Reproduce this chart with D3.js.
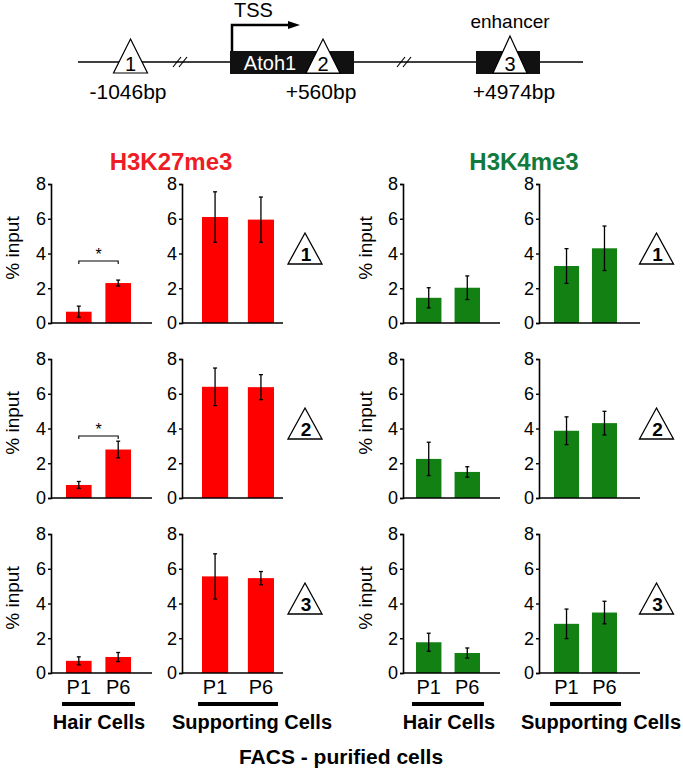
<!DOCTYPE html>
<html>
<head>
<meta charset="utf-8">
<script src="https://cdn.jsdelivr.net/npm/d3@7"></script>
<style>
  body { margin: 0; background: #fff; }
  text { font-family: "Liberation Sans", Arial, Helvetica, sans-serif; }
</style>
</head>
<body>
<div id="root"></div>
<script>
// Data
const marks = ['H3K27me3', 'H3K4me3'];
const cellTypes = ['Hair Cells', 'Supporting Cells'];
const stages = ['P1', 'P6'];
const sites = ['1', '2', '3'];
const yTicks = [0, 2, 4, 6, 8];

// [site][stage]
const k27HairMean = [[0.65, 2.3], [0.75, 2.79], [0.7, 0.92]];
const k27HairErr = [[0.32, 0.17], [0.2, 0.48], [0.23, 0.26]];
const k27SupMean = [[6.1, 5.95], [6.4, 6.38], [5.56, 5.46]];
const k27SupErr = [[1.45, 1.3], [1.08, 0.72], [1.3, 0.38]];
const k4HairMean = [[1.45, 2.03], [2.25, 1.5], [1.77, 1.15]];
const k4HairErr = [[0.58, 0.68], [0.96, 0.3], [0.52, 0.29]];
const k4SupMean = [[3.28, 4.3], [3.87, 4.31], [2.83, 3.48]];
const k4SupErr = [[1.0, 1.28], [0.8, 0.68], [0.85, 0.65]];
const k27HairSig = [true, true, false];

const meanTable = [[k27HairMean, k27SupMean], [k4HairMean, k4SupMean]];
const errTable = [[k27HairErr, k27SupErr], [k4HairErr, k4SupErr]];

// Layout
const width = 683;
const height = 771;
const rowZero = 323;
const rowStep = 175;
const rowH = 139;
const markColors = ['#ff0000', '#138013'];
const titleColors = ['#ee1c24', '#127a3c'];
const titleX = [171, 524];
const ylabelX = [12, 365];
const triX = [305, 656.5];
const panelLayout = [
  [{ axis: 51, end: 152, bars: [66, 131], pad: 0.35, label: 99 }, { axis: 182, end: 283, bars: [202, 274], pad: 0.43, label: 252 }],
  [{ axis: 403, end: 500, bars: [416, 480], pad: 0.34, label: 449 }, { axis: 539, end: 640, bars: [554, 617], pad: 0.34, label: 601 }]
];

const svg = d3.select('#root')
  .append('svg')
  .attr('width', width)
  .attr('height', height);

// Gene diagram
const diag = svg.append('g');
diag.append('line')
  .attr('x1', 78).attr('x2', 583).attr('y1', 62).attr('y2', 62)
  .attr('stroke', '#000').attr('stroke-width', 1.6);

[[230, 354], [476, 540]].forEach(([a, b]) => {
  diag.append('rect')
    .attr('x', a).attr('y', 51).attr('width', b - a).attr('height', 23)
    .attr('fill', '#111');
});

// break marks
[180, 404].forEach(cx => {
  [-3, 3].forEach(dx => {
    diag.append('line')
      .attr('x1', cx + dx - 4).attr('y1', 67).attr('x2', cx + dx + 4).attr('y2', 57)
      .attr('stroke', '#000').attr('stroke-width', 1.2);
  });
});

// TSS arrow
diag.append('path')
  .attr('d', 'M232,51 V25 H290')
  .attr('fill', 'none').attr('stroke', '#000').attr('stroke-width', 2.5);
diag.append('path')
  .attr('d', 'M288,21 L300,25 L288,29 Z')
  .attr('fill', '#000');
diag.append('text')
  .attr('x', 234).attr('y', 17)
  .attr('font-size', 20)
  .text('TSS');

diag.append('text')
  .attr('x', 270).attr('y', 70)
  .attr('text-anchor', 'middle')
  .attr('font-size', 20)
  .attr('fill', '#fff')
  .text('Atoh1');

const diagTri = [
  { cx: 130.5, apex: 39, label: '1' },
  { cx: 323, apex: 39, label: '2' },
  { cx: 510, apex: 36, label: '3' }
];
diagTri.forEach(t => {
  diag.append('path')
    .attr('d', `M${t.cx},${t.apex} L${t.cx + 17},73 L${t.cx - 17},73 Z`)
    .attr('fill', '#fff').attr('stroke', '#000').attr('stroke-width', 1.2);
  diag.append('text')
    .attr('x', t.cx).attr('y', 71)
    .attr('text-anchor', 'middle')
    .attr('font-size', 20)
    .text(t.label);
});

[[128, '-1046bp'], [321, '+560bp'], [514, '+4974bp']].forEach(([cx, s]) => {
  diag.append('text')
    .attr('x', cx).attr('y', 99)
    .attr('text-anchor', 'middle')
    .attr('font-size', 21)
    .text(s);
});
diag.append('text')
  .attr('x', 510).attr('y', 28)
  .attr('text-anchor', 'middle')
  .attr('font-size', 19)
  .text('enhancer');

// Titles
marks.forEach((mark, mi) => {
  svg.append('text')
    .attr('x', titleX[mi]).attr('y', 170)
    .attr('text-anchor', 'middle')
    .attr('font-size', 24)
    .attr('font-weight', 'bold')
    .attr('fill', titleColors[mi])
    .text(mark);
});

// Bar panels
marks.forEach((mark, mi) => {
  cellTypes.forEach((cell, ci) => {
    const lay = panelLayout[mi][ci];
    const x = d3.scaleBand()
      .domain(stages)
      .range(lay.bars)
      .paddingInner(lay.pad);

    sites.forEach((site, si) => {
      const zero = rowZero + si * rowStep;
      const y = d3.scaleLinear().domain([0, 8]).range([zero, zero - rowH]);
      const means = meanTable[mi][ci][si];
      const errs = errTable[mi][ci][si];
      const data = stages.map((s, i) => ({ stage: s, mean: means[i], err: errs[i] }));
      const g = svg.append('g');

      g.selectAll('rect.bar')
        .data(data)
        .enter()
          .append('rect')
          .attr('class', 'bar')
          .attr('x', d => x(d.stage))
          .attr('width', x.bandwidth())
          .attr('y', d => y(d.mean))
          .attr('height', d => y(0) - y(d.mean))
          .attr('fill', markColors[mi]);

      // error bars
      const eb = g.selectAll('g.err')
        .data(data)
        .enter()
          .append('g')
          .attr('stroke', '#000')
          .attr('stroke-width', 1.3);
      const cx = d => x(d.stage) + x.bandwidth() / 2;
      eb.append('line')
        .attr('x1', cx).attr('x2', cx)
        .attr('y1', d => y(d.mean + d.err))
        .attr('y2', d => y(d.mean - d.err));
      eb.append('line')
        .attr('x1', d => cx(d) - 2).attr('x2', d => cx(d) + 2)
        .attr('y1', d => y(d.mean + d.err)).attr('y2', d => y(d.mean + d.err));
      eb.append('line')
        .attr('x1', d => cx(d) - 2).attr('x2', d => cx(d) + 2)
        .attr('y1', d => y(d.mean - d.err)).attr('y2', d => y(d.mean - d.err));

      // y axis
      const ax = g.append('g')
        .attr('transform', `translate(${lay.axis},0)`)
        .call(d3.axisLeft(y).tickValues(yTicks).tickSizeOuter(0).tickSize(3).tickPadding(2));
      ax.select('.domain').attr('stroke-width', 1.6);
      ax.selectAll('.tick line').attr('stroke-width', 1.4);
      ax.selectAll('.tick text')
        .attr('font-size', 18)
        .attr('font-family', '"Liberation Sans", Arial, sans-serif')
        .attr('fill', '#000');

      // x baseline
      g.append('line')
        .attr('x1', lay.axis).attr('x2', lay.end)
        .attr('y1', y(0)).attr('y2', y(0))
        .attr('stroke', '#000').attr('stroke-width', 1.6);

      // significance bracket
      if (mi === 0 && ci === 0 && k27HairSig[si]) {
        const x1 = cx(data[0]);
        const x2 = cx(data[1]);
        const by = y(3.57);
        g.append('path')
          .attr('d', `M${x1},${by + 3} V${by} H${x2} V${by + 3}`)
          .attr('fill', 'none').attr('stroke', '#000').attr('stroke-width', 1.1);
        g.append('text')
          .attr('x', (x1 + x2) / 2).attr('y', by - 1)
          .attr('text-anchor', 'middle')
          .attr('font-size', 16)
          .text('*');
      }

      // bottom row: stage labels
      if (si === sites.length - 1) {
        g.selectAll('text.stage')
          .data(data)
          .enter()
            .append('text')
            .attr('class', 'stage')
            .attr('x', cx)
            .attr('y', zero + 21)
            .attr('text-anchor', 'middle')
            .attr('font-size', 20)
            .text(d => d.stage);
        g.append('rect')
          .attr('x', lay.bars[0] - 4).attr('y', zero + 29)
          .attr('width', lay.bars[1] - lay.bars[0] + 8).attr('height', 4)
          .attr('fill', '#000');
        g.append('text')
          .attr('x', lay.label).attr('y', zero + 56)
          .attr('text-anchor', 'middle')
          .attr('font-size', 20)
          .attr('font-weight', 'bold')
          .text(cell);
      }
    });
  });

  // y labels and site triangles
  sites.forEach((site, si) => {
    const zero = rowZero + si * rowStep;
    svg.append('text')
      .attr('transform', `translate(${ylabelX[mi] + 7},${zero - 75}) rotate(-90)`)
      .attr('text-anchor', 'middle')
      .attr('font-size', 19)
      .text('% input');

    const cx = triX[mi];
    const apex = zero - 90;
    const base = zero - 59;
    svg.append('path')
      .attr('d', `M${cx},${apex} L${cx + 17},${base} L${cx - 17},${base} Z`)
      .attr('fill', '#fff').attr('stroke', '#000').attr('stroke-width', 1.3);
    svg.append('text')
      .attr('x', cx + 1).attr('y', base - 3)
      .attr('text-anchor', 'middle')
      .attr('font-size', 19)
      .attr('font-weight', 'bold')
      .text(site);
  });
});

svg.append('text')
  .attr('x', 341).attr('y', 764)
  .attr('text-anchor', 'middle')
  .attr('font-size', 21)
  .attr('font-weight', 'bold')
  .text('FACS - purified cells');
</script>
</body>
</html>
